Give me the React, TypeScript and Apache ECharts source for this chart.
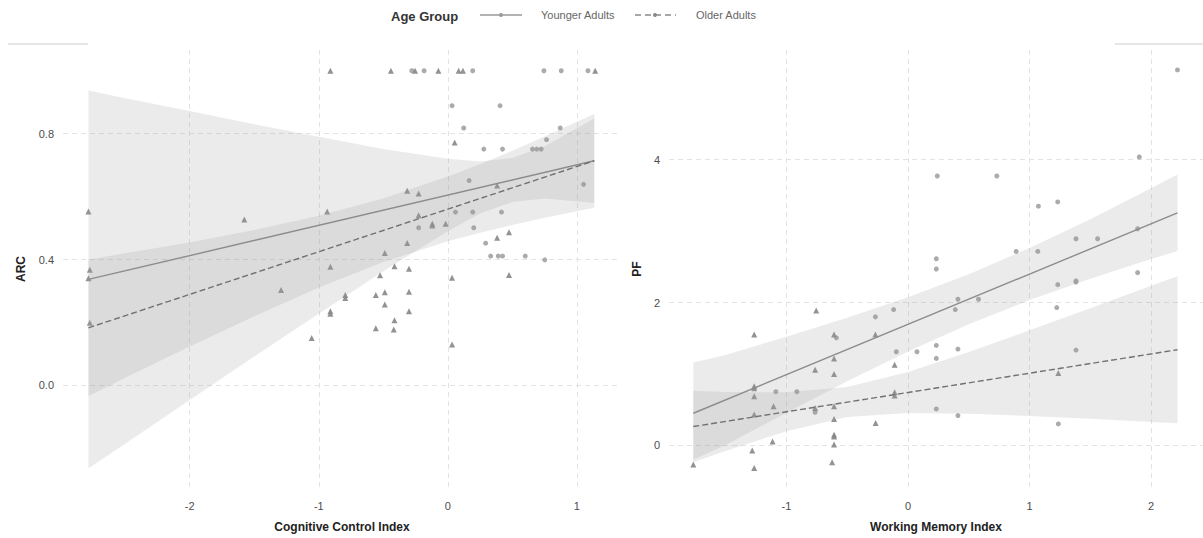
import React, { useEffect, useRef } from "react";
import * as echarts from "echarts";

// ---------- Left panel: Cognitive Control Index vs ARC ----------
const ccYoungX = [-0.279, -0.184, 0.193, 0.745, 0.879, 1.086, 0.033, 0.405, 0.123, 0.871, 0.765, 0.279, 0.424, 0.656, 0.689, 0.723, 0.165, 1.052, 0.059, 0.193, 0.416, -0.226, 0.201, 0.293, 0.332, 0.391, 0.424, 0.6, 0.751];
const ccYoungY = [1.0, 1.0, 1.0, 1.0, 1.0, 1.0, 0.889, 0.889, 0.818, 0.818, 0.781, 0.751, 0.751, 0.751, 0.751, 0.751, 0.651, 0.639, 0.551, 0.551, 0.551, 0.501, 0.501, 0.452, 0.411, 0.411, 0.411, 0.411, 0.399];
const ccOldX = [-2.785, -2.774, -2.785, -2.774, -1.577, -1.292, -0.935, -0.91, -0.91, -0.91, -0.795, -0.795, -1.055, -0.91, -0.441, -0.254, -0.073, 0.084, 0.117, 1.142, -0.315, -0.226, -0.226, -0.12, -0.12, -0.017, -0.315, -0.488, -0.525, -0.413, -0.301, -0.558, -0.488, -0.301, -0.488, -0.301, -0.413, -0.558, -0.419, 0.033, 0.033, 0.053, 0.382, 0.474, 0.474, 0.382];
const ccOldY = [0.553, 0.368, 0.341, 0.199, 0.527, 0.303, 0.553, 0.377, 0.236, 0.228, 0.287, 0.278, 0.151, 1.0, 1.0, 1.0, 1.0, 1.0, 1.0, 1.0, 0.619, 0.61, 0.541, 0.514, 0.508, 0.514, 0.453, 0.421, 0.35, 0.379, 0.371, 0.287, 0.296, 0.298, 0.257, 0.236, 0.207, 0.182, 0.178, 0.342, 0.13, 0.772, 0.469, 0.487, 0.351, 0.635];
const ccLineX = [-2.785, 1.135];
const ccYoungLineY = [0.337, 0.714];
const ccOldLineY = [0.183, 0.714];
const ccBandX = [-2.785, -2.5, -2, -1.5, -1, -0.5, 0, 0.25, 0.5, 0.75, 1.135];
const ccYoungUpper = [0.937, 0.913, 0.872, 0.83, 0.79, 0.751, 0.72, 0.712, 0.723, 0.76, 0.848];
const ccYoungLower = [-0.263, -0.185, -0.046, 0.092, 0.228, 0.363, 0.49, 0.546, 0.583, 0.594, 0.58];
const ccOldUpper = [0.4, 0.42, 0.454, 0.494, 0.539, 0.594, 0.664, 0.703, 0.746, 0.791, 0.863];
const ccOldLower = [-0.034, 0.024, 0.124, 0.22, 0.311, 0.392, 0.458, 0.485, 0.51, 0.533, 0.565];
const ccXTicks = [-2, -1, 0, 1];
const ccYTicks = [0, 0.4, 0.8];

// ---------- Right panel: Working Memory Index vs PF ----------
const wmYoungX = [2.217, 1.903, 0.241, 0.731, 1.073, 1.232, 1.382, 1.56, 1.889, 0.89, 1.068, 0.233, 0.233, 1.232, 1.382, 1.382, 1.889, 1.224, 0.411, 0.58, 0.389, -0.118, -0.268, -0.589, 0.233, 0.411, -0.096, 0.074, 0.233, 1.382, -1.087, -0.914, -0.764, 0.233, 0.411, 1.237];
const wmYoungY = [5.256, 4.037, 3.772, 3.772, 3.349, 3.409, 2.893, 2.893, 3.033, 2.716, 2.716, 2.614, 2.47, 2.251, 2.302, 2.288, 2.419, 1.93, 2.047, 2.047, 1.902, 1.902, 1.8, 1.507, 1.4, 1.349, 1.312, 1.312, 1.219, 1.335, 0.753, 0.753, 0.465, 0.512, 0.419, 0.302];
const wmOldX = [-1.766, -1.265, -1.265, -1.265, -1.265, -1.265, -1.281, -1.265, -1.114, -1.106, -0.755, -0.764, -0.764, -0.608, -0.608, -0.608, -0.608, -0.608, -0.608, -0.608, -0.608, -0.624, -0.268, -0.266, -0.11, -0.11, -0.11, 1.237];
const wmOldY = [-0.265, 1.553, 0.828, 0.8, 0.688, 0.433, -0.07, -0.316, 0.056, 0.549, 1.888, 1.06, 0.526, 1.553, 1.219, 1.0, 0.549, 0.372, 0.149, 0.126, 0.014, -0.233, 1.553, 0.316, 1.13, 0.744, 0.698, 1.014];
const wmLineX = [-1.766, 2.217];
const wmYoungLineY = [0.451, 3.256];
const wmOldLineY = [0.265, 1.34];
const wmBandX = [-1.766, -1.5, -1, -0.5, 0, 0.5, 1, 1.5, 2, 2.217];
const wmYoungUpper = [1.16, 1.268, 1.521, 1.787, 2.075, 2.398, 2.763, 3.168, 3.599, 3.791];
const wmYoungLower = [-0.2, 0.008, 0.459, 0.899, 1.315, 1.696, 2.035, 2.334, 2.609, 2.721];
const wmOldUpper = [0.765, 0.75, 0.744, 0.817, 1.028, 1.309, 1.612, 1.921, 2.234, 2.37];
const wmOldLower = [-0.235, -0.076, 0.2, 0.397, 0.456, 0.445, 0.412, 0.373, 0.33, 0.31];
const wmXTicks = [-1, 0, 1, 2];
const wmYTicks = [0, 2, 4];

const groupNames = ["Younger Adults", "Older Adults"];
const legendTitle = "Age Group";

const FONT = "'Liberation Sans', Arial, Helvetica, sans-serif";
const BAND_FILL = "rgba(153,153,153,0.2)";
const YOUNG_LINE = "#8c8c8c";
const OLD_LINE = "#717171";
const YOUNG_PT = "#a2a2a2";
const OLD_PT = "#868686";

const zip = (xs: number[], ys: number[]) => xs.map((x, i) => [x, ys[i]]);

function bandSeries(idx: number, bx: number[], up: number[], lo: number[]) {
  return {
    type: "custom",
    xAxisIndex: idx,
    yAxisIndex: idx,
    silent: true,
    z: 3,
    data: [[bx[0], up[0]]],
    renderItem: (_params: any, api: any) => {
      const pts: number[][] = [];
      for (let i = 0; i < bx.length; i++) pts.push(api.coord([bx[i], up[i]]));
      for (let i = bx.length - 1; i >= 0; i--) pts.push(api.coord([bx[i], lo[i]]));
      return { type: "polygon", shape: { points: pts }, style: { fill: BAND_FILL } };
    },
  };
}

function scatter(idx: number, name: string, xs: number[], ys: number[], symbol: string, size: number, color: string) {
  return {
    type: "scatter",
    name,
    xAxisIndex: idx,
    yAxisIndex: idx,
    symbol,
    symbolSize: size,
    itemStyle: { color, opacity: 0.9 },
    z: 2,
    data: zip(xs, ys),
  };
}

function regLine(idx: number, name: string, xs: number[], ys: number[], color: string, dashed: boolean) {
  return {
    type: "line",
    name,
    xAxisIndex: idx,
    yAxisIndex: idx,
    showSymbol: false,
    silent: true,
    z: 4,
    lineStyle: { color, width: 1.4, type: dashed ? [6, 3] : "solid" },
    data: zip(xs, ys),
  };
}

function xAxis(idx: number, min: number, max: number, ticks: number[], name: string) {
  return {
    type: "value",
    gridIndex: idx,
    min,
    max,
    name,
    nameLocation: "middle",
    nameGap: 33,
    nameTextStyle: { fontFamily: FONT, fontSize: 12, fontWeight: "bold", color: "#222" },
    axisLine: { show: false },
    axisTick: { show: false, customValues: ticks },
    axisLabel: { customValues: ticks, fontFamily: FONT, fontSize: 11, color: "#4d4d4d", margin: 12 },
    splitLine: { show: true, lineStyle: { color: "#e3e3e3", width: 1, type: [5, 4] } },
  };
}

function yAxis(idx: number, min: number, max: number, ticks: number[], name: string, gap: number, decimals: number) {
  return {
    type: "value",
    gridIndex: idx,
    min,
    max,
    name,
    nameLocation: "middle",
    nameGap: gap,
    nameTextStyle: { fontFamily: FONT, fontSize: 12, fontWeight: "bold", color: "#222" },
    axisLine: { show: false },
    axisTick: { show: false, customValues: ticks },
    axisLabel: {
      customValues: ticks,
      fontFamily: FONT,
      fontSize: 11,
      color: "#4d4d4d",
      margin: 9,
      formatter: (v: number) => v.toFixed(decimals),
    },
    splitLine: { show: true, lineStyle: { color: "#e3e3e3", width: 1, type: [5, 4] } },
  };
}

export default function App() {
  const ref = useRef<HTMLDivElement>(null);
  useEffect(() => {
    if (!ref.current) return;
    const chart = echarts.init(ref.current, null, { renderer: "svg" });
    const option: any = {
      animation: false,
      backgroundColor: "#ffffff",
      grid: [
        { left: 63, top: 50, width: 558, height: 438 },
        { left: 669, top: 50, width: 551, height: 439 },
      ],
      xAxis: [
        xAxis(0, -2.982, 1.342, ccXTicks, "Cognitive Control Index"),
        xAxis(1, -1.966, 2.427, wmXTicks, "Working Memory Index"),
      ],
      yAxis: [
        yAxis(0, -0.326, 1.066, ccYTicks, "ARC", 36, 1),
        yAxis(1, -0.595, 5.535, wmYTicks, "PF", 26, 0),
      ],
      series: [
        scatter(0, groupNames[0], ccYoungX, ccYoungY, "circle", 5, YOUNG_PT),
        scatter(0, groupNames[1], ccOldX, ccOldY, "triangle", 6, OLD_PT),
        bandSeries(0, ccBandX, ccYoungUpper, ccYoungLower),
        bandSeries(0, ccBandX, ccOldUpper, ccOldLower),
        regLine(0, groupNames[0], ccLineX, ccYoungLineY, YOUNG_LINE, false),
        regLine(0, groupNames[1], ccLineX, ccOldLineY, OLD_LINE, true),
        scatter(1, groupNames[0], wmYoungX, wmYoungY, "circle", 5, YOUNG_PT),
        scatter(1, groupNames[1], wmOldX, wmOldY, "triangle", 6, OLD_PT),
        bandSeries(1, wmBandX, wmYoungUpper, wmYoungLower),
        bandSeries(1, wmBandX, wmOldUpper, wmOldLower),
        regLine(1, groupNames[0], wmLineX, wmYoungLineY, YOUNG_LINE, false),
        regLine(1, groupNames[1], wmLineX, wmOldLineY, OLD_LINE, true),
      ],
      graphic: [
        { type: "line", shape: { x1: 8, y1: 44, x2: 88, y2: 44 }, style: { stroke: "#e6e6e6", lineWidth: 2 } },
        { type: "line", shape: { x1: 1115, y1: 44, x2: 1203, y2: 44 }, style: { stroke: "#e6e6e6", lineWidth: 2 } },
        {
          type: "text",
          left: 391,
          top: 10,
          style: { text: legendTitle, fontFamily: FONT, fontSize: 13, fontWeight: "bold", fill: "#333" },
        },
        { type: "line", shape: { x1: 480, y1: 15, x2: 522, y2: 15 }, style: { stroke: "#9a9a9a", lineWidth: 1.5 } },
        { type: "circle", shape: { cx: 501, cy: 15, r: 2 }, style: { fill: "#9a9a9a" } },
        {
          type: "text",
          left: 541,
          top: 9,
          style: { text: groupNames[0], fontFamily: FONT, fontSize: 11, fill: "#666" },
        },
        {
          type: "line",
          shape: { x1: 635, y1: 15, x2: 676, y2: 15 },
          style: { stroke: "#8a8a8a", lineWidth: 1.5, lineDash: [6, 4] },
        },
        { type: "circle", shape: { cx: 655, cy: 15, r: 2 }, style: { fill: "#8a8a8a" } },
        {
          type: "text",
          left: 696,
          top: 9,
          style: { text: groupNames[1], fontFamily: FONT, fontSize: 11, fill: "#666" },
        },
      ],
    };
    chart.setOption(option);
    return () => chart.dispose();
  }, []);
  return (
    <div
      ref={ref}
      style={{ position: "fixed", left: 0, top: 0, width: 1203, height: 538, background: "#fff" }}
    />
  );
}
